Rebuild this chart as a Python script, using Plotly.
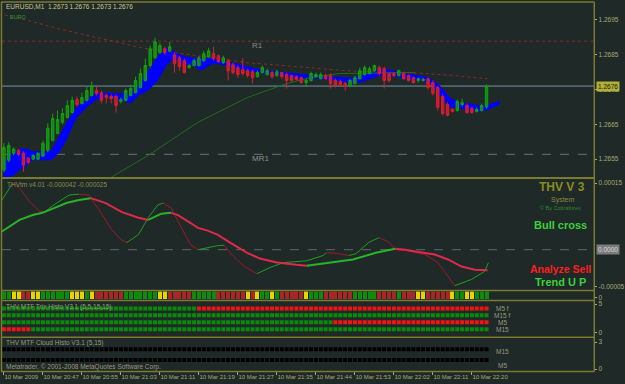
import plotly.graph_objects as go

# ---------------- data ----------------
bar_idx = list(range(100))

open_ = [1.26519, 1.26547, 1.26567, 1.26576, 1.26567, 1.26553, 1.26550, 1.26550, 1.26559, 1.26576,
         1.26604, 1.26624, 1.26656, 1.26670, 1.26684, 1.26721, 1.26710, 1.26719, 1.26733, 1.26747,
         1.26741, 1.26733, 1.26730, 1.26730, 1.26716, 1.26719, 1.26733, 1.26741, 1.26756, 1.26776,
         1.26819, 1.26841, 1.26856, 1.26867, 1.26861, 1.26850, 1.26841, 1.26833, 1.26813, 1.26819,
         1.26819, 1.26833, 1.26844, 1.26853, 1.26847, 1.26827, 1.26833, 1.26821, 1.26813, 1.26807,
         1.26804, 1.26801, 1.26787, 1.26799, 1.26793, 1.26799, 1.26790, 1.26799, 1.26793, 1.26790,
         1.26787, 1.26784, 1.26770, 1.26776, 1.26787, 1.26781, 1.26790, 1.26790, 1.26776, 1.26773,
         1.26767, 1.26761, 1.26767, 1.26781, 1.26793, 1.26796, 1.26804, 1.26813, 1.26810, 1.26796,
         1.26796, 1.26790, 1.26796, 1.26790, 1.26784, 1.26776, 1.26776, 1.26781, 1.26770, 1.26756,
         1.26730, 1.26707, 1.26693, 1.26690, 1.26707, 1.26704, 1.26696, 1.26687, 1.26690, 1.26700]
high = [1.26596, 1.26599, 1.26584, 1.26579, 1.26573, 1.26556, 1.26564, 1.26570, 1.26604, 1.26653,
        1.26681, 1.26690, 1.26696, 1.26719, 1.26730, 1.26730, 1.26741, 1.26759, 1.26773, 1.26759,
        1.26747, 1.26739, 1.26736, 1.26736, 1.26727, 1.26753, 1.26764, 1.26787, 1.26810, 1.26839,
        1.26876, 1.26899, 1.26884, 1.26873, 1.26887, 1.26856, 1.26847, 1.26839, 1.26824, 1.26839,
        1.26847, 1.26861, 1.26870, 1.26873, 1.26850, 1.26847, 1.26839, 1.26827, 1.26819, 1.26841,
        1.26810, 1.26807, 1.26804, 1.26819, 1.26810, 1.26804, 1.26807, 1.26801, 1.26799, 1.26793,
        1.26790, 1.26787, 1.26781, 1.26801, 1.26799, 1.26799, 1.26796, 1.26796, 1.26781, 1.26779,
        1.26773, 1.26781, 1.26790, 1.26813, 1.26819, 1.26816, 1.26821, 1.26819, 1.26816, 1.26799,
        1.26799, 1.26807, 1.26801, 1.26793, 1.26787, 1.26784, 1.26784, 1.26784, 1.26776, 1.26761,
        1.26736, 1.26713, 1.26696, 1.26721, 1.26724, 1.26710, 1.26701, 1.26699, 1.26710, 1.26765]
low = [1.26513, 1.26541, 1.26561, 1.26559, 1.26513, 1.26536, 1.26547, 1.26547, 1.26556, 1.26570,
       1.26601, 1.26621, 1.26650, 1.26667, 1.26681, 1.26701, 1.26707, 1.26716, 1.26730, 1.26733,
       1.26710, 1.26710, 1.26710, 1.26684, 1.26710, 1.26716, 1.26730, 1.26739, 1.26753, 1.26773,
       1.26813, 1.26839, 1.26853, 1.26850, 1.26859, 1.26799, 1.26804, 1.26796, 1.26810, 1.26816,
       1.26816, 1.26830, 1.26841, 1.26833, 1.26827, 1.26824, 1.26776, 1.26793, 1.26784, 1.26790,
       1.26784, 1.26767, 1.26784, 1.26796, 1.26790, 1.26781, 1.26787, 1.26781, 1.26753, 1.26773,
       1.26776, 1.26767, 1.26759, 1.26773, 1.26784, 1.26779, 1.26779, 1.26753, 1.26756, 1.26759,
       1.26747, 1.26756, 1.26764, 1.26779, 1.26790, 1.26793, 1.26801, 1.26790, 1.26753, 1.26770,
       1.26787, 1.26787, 1.26779, 1.26773, 1.26767, 1.26770, 1.26773, 1.26750, 1.26733, 1.26690,
       1.26676, 1.26673, 1.26684, 1.26687, 1.26701, 1.26681, 1.26681, 1.26684, 1.26687, 1.26695]
close = [1.26584, 1.26590, 1.26579, 1.26564, 1.26533, 1.26541, 1.26561, 1.26567, 1.26596, 1.26639,
         1.26667, 1.26664, 1.26681, 1.26704, 1.26719, 1.26707, 1.26727, 1.26747, 1.26761, 1.26739,
         1.26719, 1.26727, 1.26724, 1.26704, 1.26721, 1.26747, 1.26753, 1.26776, 1.26796, 1.26819,
         1.26867, 1.26887, 1.26876, 1.26856, 1.26873, 1.26824, 1.26816, 1.26799, 1.26819, 1.26833,
         1.26841, 1.26853, 1.26861, 1.26839, 1.26830, 1.26841, 1.26804, 1.26799, 1.26793, 1.26796,
         1.26790, 1.26784, 1.26799, 1.26813, 1.26804, 1.26787, 1.26801, 1.26787, 1.26776, 1.26776,
         1.26779, 1.26770, 1.26776, 1.26796, 1.26793, 1.26793, 1.26781, 1.26767, 1.26761, 1.26764,
         1.26759, 1.26776, 1.26784, 1.26804, 1.26813, 1.26810, 1.26819, 1.26796, 1.26776, 1.26776,
         1.26790, 1.26804, 1.26781, 1.26776, 1.26770, 1.26781, 1.26779, 1.26756, 1.26739, 1.26699,
         1.26681, 1.26676, 1.26687, 1.26716, 1.26713, 1.26684, 1.26684, 1.26693, 1.26704, 1.26760]

cloud_x = [0, 1.6, 3.2, 4.7, 5.9, 8.3, 9.7, 11.4, 12.8, 14.8,
           16.8, 18.9, 21.5, 23.5, 26.0, 27.6, 29.6, 31.6, 33.3, 34.9,
           36.7, 38.7, 40.4, 42.8, 44.8, 47.9, 50.9, 53.9, 57.0, 60.0,
           64.1, 68.2, 71.2, 73.2, 75.3, 78.3, 80.3, 82.4, 85.4, 87.4,
           89.5, 91.5, 93.5, 95.5, 97.6, 99.6, 101.6]
cloud_top = [1.26547, 1.26567, 1.26579, 1.26581, 1.26573, 1.26573, 1.26576, 1.26619, 1.26653, 1.26699,
             1.26719, 1.26741, 1.26741, 1.26739, 1.26741, 1.26764, 1.26804, 1.26847, 1.26870, 1.26861,
             1.26847, 1.26841, 1.26841, 1.26841, 1.26833, 1.26824, 1.26813, 1.26804, 1.26801, 1.26796,
             1.26790, 1.26787, 1.26784, 1.26790, 1.26801, 1.26810, 1.26804, 1.26796, 1.26790, 1.26784,
             1.26761, 1.26727, 1.26713, 1.26710, 1.26704, 1.26707, 1.26719]
cloud_bot = [1.26499, 1.26499, 1.26519, 1.26533, 1.26547, 1.26547, 1.26547, 1.26570, 1.26604, 1.26667,
             1.26696, 1.26721, 1.26730, 1.26721, 1.26710, 1.26733, 1.26747, 1.26776, 1.26819, 1.26839,
             1.26824, 1.26819, 1.26804, 1.26824, 1.26821, 1.26810, 1.26801, 1.26796, 1.26790, 1.26781,
             1.26781, 1.26776, 1.26767, 1.26770, 1.26781, 1.26793, 1.26787, 1.26781, 1.26776, 1.26770,
             1.26733, 1.26699, 1.26696, 1.26690, 1.26687, 1.26693, 1.26707]

ma_red_x = [0.2, 5.3, 11.4, 19.5, 28.2, 39.8, 49.9, 60.0, 70.2, 80.3, 86.4, 92.5, 99.2]
ma_red = [1.26964, 1.26947, 1.26924, 1.26899, 1.26870, 1.26847, 1.26827, 1.26816, 1.26804, 1.26799,
          1.26796, 1.26790, 1.26781]
ma_green_x = [22.1, 29.6, 39.8, 49.9, 58.0, 62.7, 68.8, 80.3, 84.4]
ma_green = [1.26499, 1.26561, 1.26656, 1.26727, 1.26767, 1.26784, 1.26796, 1.26799, 1.26799]

r1_level = 1.26889
mr1_level = 1.26564
bid_price = 1.26760

price_ticks = [1.2655, 1.2665, 1.2675, 1.2685, 1.2695]
price_tick_text = ["1.2655", "1.2665", "1.2675", "1.2685", "1.2695"]

time_tick_idx = [0, 8, 16, 24, 32, 40, 48, 56, 64, 72, 80, 88, 96]
time_tick_text = ["10 Mar 2009", "10 Mar 20:47", "10 Mar 20:55", "10 Mar 21:03", "10 Mar 21:11",
                  "10 Mar 21:19", "10 Mar 21:27", "10 Mar 21:35", "10 Mar 21:44", "10 Mar 21:53",
                  "10 Mar 22:02", "10 Mar 22:11", "10 Mar 22:20"]

# THV oscillator (units of 1e-6)
slow_x = [-0.8, 3.2, 5.9, 7.9, 9.9, 12.8, 15.4, 17.8, 20.9, 24.1, 27.6, 29.6, 32.3, 34.3, 35.7,
          38.3, 39.8, 41.8, 43.8, 46.4, 49.9, 52.5, 56.0, 60.0, 62.1, 66.7, 71.6, 76.3, 80.3,
          82.4, 84.4, 88.4, 91.1, 93.9, 96.6, 99.2]
slow_v = [38, 67, 78, 83, 92, 105, 112, 116, 105, 85, 72, 67, 81, 83, 78,
          60, 49, 43, 34, 16, -7, -20, -29, -34, -36, -29, -22, -7, 2,
          0, -4, -11, -22, -38, -45, -46]
fast_x = [-0.8, 1.8, 3.2, 5.3, 7.3, 8.3, 10.8, 13.4, 15.4, 17.4, 19.5, 22.1, 24.1, 25.2, 27.6,
          29.6, 31.6, 32.7, 34.3, 36.3, 38.3, 39.8, 43.8, 45.2, 46.4, 49.3, 51.9, 54.6, 57.4,
          60.0, 62.1, 65.5, 66.1, 68.2, 70.8, 72.2, 74.8, 76.9, 78.9, 80.3, 82.4, 86.4, 89.0,
          91.1, 92.5, 95.9, 98.6, 99.4]
fast_v = [105, 150, 139, 108, 87, 85, 105, 123, 125, 123, 90, 45, 22, 16, 34,
          72, 101, 105, 94, 52, 11, 0, 9, 10, -7, -38, -54, -40, -29,
          -27, -25, -13, -7, -8, -13, -9, 16, 27, 18, 0, -2, -11, -29,
          -60, -81, -67, -49, -29]
osc_ticks = [150, -83]
osc_tick_text = ["0.00015", "-0.00005"]

trend_row = ("GGYYRRYYGG" "GGGGYYYGYR" "RRRRRGGGGG" "GGYYRRRRRG" "GGGGRRRRRR"
             "YRYGGYGRRR" "RRYGGGRRRR" "RRGGGGGRRR" "RGRRRYYRRR" "RRYGGYYGGG")

trix_names = ["M5 f", "M15 f", "M5", "M15"]
trix_levels = [4, 3, 2, 1]
trix_rows = [
    "GGGGGGGGGG" "GGGGGGGGGG" "GGGGGGGGGG" "GGGGGGGGGG" "RRRRRRRRRR"
    "RRRRRRRRRR" "RRRRRRRRRR" "RRRRRRRRRR" "RRRRRRRRRR" "RRRRRRRRRR",
    "GGGGGGGGGG" "GGGGGGGGGG" "GGGGGGGGGG" "GGGGGGGGGG" "GGGGGGGGGG"
    "GGGGGGGGGG" "GGGGGGGGGG" "GGGGGGGGGG" "GGGGGGGGGG" "GGGGGGGGGG",
    "GGGGGGGGGG" "GGGGGGGGGG" "GGGGGGGGGG" "GGGGGGGGGG" "GGGGGGGGGG"
    "GGGGGGGGGG" "GGGGGGGGRR" "RRRRRRRRRR" "RRRRRRRRRR" "RRRRRRRRRR",
    "RRRRRRGGGG" "GGGGGGGGGG" "GGGGGGGGGG" "GGGGGGGGGG" "GGGGGGGGGG"
    "GGGGGGGGGG" "GGGGGGGGGG" "GGGGGGGGGG" "GGGGGGGGGG" "GGGGGGGGGG",
]
cloud_names = ["M15", "M5"]
cloud_levels = [2, 1]
cloud_rows = [
    "KKKKKKKKKK" "KKKKKKKKKK" "KKKKKKKKKK" "KKKKKKKKKK" "KKKKKKKKKK"
    "KKKKKKKKKK" "KKKKKKKKKK" "KKKKKKKKKK" "KKKKKKKKKK" "KKKKKKKKKK",
    "KKKKKKKKKK" "KKKKKKKKKK" "KKKKKKKKKK" "KKKKKKKKKK" "KKKKKKKKKK"
    "KKKKKKKKKK" "KKKKKKKKKK" "KKKKKKKKKK" "KKKKKKKKKK" "KKKKKKKKKK",
]

# ---------------- style ----------------
W, H = 625, 384
BG = "#1f2927"
OLIVE = "#7a7a30"
LBL = "#a8a874"
TXT = "#9a9a80"
FONT = "Liberation Sans"
row_colors = {"G": "#0b8c0b", "Y": "#e6d400", "R": "#a82626"}
trix_colors = {"G": "#0a8a0a", "R": "#f01414", "K": "#000000"}


def py(p):
    return 1 - p / H


def pxx(p):
    return p / W


X0, X1 = 2, 601
fig = go.Figure()

# cloud (base axis, below candles)
fig.add_trace(go.Scatter(x=cloud_x, y=cloud_bot, mode="lines", line=dict(width=0, color="#0000ff"),
                         xaxis="x", yaxis="y", hoverinfo="skip", showlegend=False))
fig.add_trace(go.Scatter(x=cloud_x, y=cloud_top, mode="lines", line=dict(width=0, color="#0000ff"),
                         fill="tonexty", fillcolor="#0000ff", xaxis="x", yaxis="y",
                         hoverinfo="skip", showlegend=False))
fig.add_trace(go.Scatter(x=ma_green_x, y=ma_green, mode="lines", line=dict(width=1, color="#1d6e1d"),
                         xaxis="x", yaxis="y", showlegend=False))
fig.add_trace(go.Scatter(x=ma_red_x, y=ma_red, mode="lines",
                         line=dict(width=1, color="#8c2a2a", dash="dot"),
                         xaxis="x", yaxis="y", showlegend=False))

# candles on overlay axis (drawn above cloud)
fig.add_trace(go.Candlestick(x=bar_idx, open=open_, high=high, low=low, close=close,
                             xaxis="x", yaxis="y6",
                             increasing=dict(line=dict(color="#14a014", width=1), fillcolor="#0f8c0f"),
                             decreasing=dict(line=dict(color="#d81e34", width=1), fillcolor="#c81a30"),
                             whiskerwidth=0, showlegend=False))


def split_dir(xs, vs):
    segs = []
    cur = None
    sx, sv = [xs[0]], [vs[0]]
    for k in range(1, len(xs)):
        d = vs[k] > vs[k - 1]
        if cur is None or d == cur:
            cur = d
            sx.append(xs[k]); sv.append(vs[k])
        else:
            segs.append((cur, sx, sv))
            sx, sv = [xs[k - 1], xs[k]], [vs[k - 1], vs[k]]
            cur = d
    segs.append((cur, sx, sv))
    return segs


for up, sx, sv in split_dir(fast_x, fast_v):
    fig.add_trace(go.Scatter(x=sx, y=sv, mode="lines", xaxis="x", yaxis="y2",
                             line=dict(width=1, color="#1ea01e" if up else "#a0182a"),
                             showlegend=False))
for up, sx, sv in split_dir(slow_x, slow_v):
    fig.add_trace(go.Scatter(x=sx, y=sv, mode="lines", xaxis="x", yaxis="y2",
                             line=dict(width=2, color="#28b428" if up else "#e0284c"),
                             showlegend=False))

# trend colour row
fig.add_trace(go.Bar(x=bar_idx, y=[1] * len(trend_row), base=0, width=0.82, xaxis="x", yaxis="y3",
                     marker=dict(color=[row_colors[c] for c in trend_row], line=dict(width=0)),
                     showlegend=False))

for lvl, row in zip(trix_levels, trix_rows):
    fig.add_trace(go.Scatter(x=bar_idx, y=[lvl] * len(row), mode="markers", xaxis="x", yaxis="y4",
                             marker=dict(symbol="square", size=4, color=[trix_colors[c] for c in row],
                                         line=dict(width=0)),
                             showlegend=False))
for lvl, row in zip(cloud_levels, cloud_rows):
    fig.add_trace(go.Scatter(x=bar_idx, y=[lvl] * len(row), mode="markers", xaxis="x", yaxis="y5",
                             marker=dict(symbol="square", size=4, color=[trix_colors[c] for c in row],
                                         line=dict(width=0)),
                             showlegend=False))

tickfont = dict(family=FONT, size=6.5, color=LBL)
common_y = dict(showgrid=False, zeroline=False, showline=False, side="right", anchor="x",
                ticks="outside", ticklen=2, tickcolor=LBL, tickfont=tickfont, fixedrange=True)

p_lo = 1.264986
p_hi = 1.269986
fig.update_layout(
    width=W, height=H, margin=dict(l=0, r=0, t=0, b=0),
    paper_bgcolor=BG, plot_bgcolor=BG, showlegend=False, bargap=0,
    xaxis=dict(domain=[pxx(X0), pxx(X1)], range=[-0.4, 121.1], anchor="y5",
               showgrid=False, zeroline=False, showline=False,
               tickvals=time_tick_idx, ticktext=time_tick_text, ticks="outside", ticklen=3,
               tickcolor=LBL, ticklabelposition="outside right", tickangle=0,
               tickfont=dict(family=FONT, size=6, color=LBL),
               rangeslider=dict(visible=False)),
    yaxis=dict(domain=[py(177), py(2)], range=[p_lo, p_hi], tickvals=price_ticks,
               ticktext=price_tick_text, **common_y),
    yaxis6=dict(overlaying="y", range=[p_lo, p_hi], visible=False, anchor="x", side="right"),
    yaxis2=dict(domain=[py(290), py(179)], range=[-89.6, 159], tickvals=osc_ticks,
                ticktext=osc_tick_text, **common_y),
    yaxis3=dict(domain=[py(300), py(292)], range=[0, 1], tickvals=[0.25], ticktext=["0"], **common_y),
    yaxis4=dict(domain=[py(337), py(302)], range=[0, 5], tickvals=[0.5, 4.6], ticktext=["0", "5"],
                **common_y),
    yaxis5=dict(domain=[py(372), py(339)], range=[0, 3], tickvals=[0.18, 2.64], ticktext=["0", "3"],
                **common_y),
)

shapes = []
# level lines
shapes.append(dict(type="line", xref="x domain", x0=0, x1=1, yref="y", y0=r1_level, y1=r1_level,
                   line=dict(color="#8c2a2a", width=1, dash="dot"), layer="below"))
shapes.append(dict(type="line", xref="x domain", x0=0, x1=1, yref="y", y0=mr1_level, y1=mr1_level,
                   line=dict(color="#6c7474", width=1, dash="dash"), layer="below"))
shapes.append(dict(type="line", xref="x domain", x0=0, x1=1, yref="y", y0=bid_price, y1=bid_price,
                   line=dict(color="#7894a8", width=1), layer="below"))
shapes.append(dict(type="line", xref="x domain", x0=0, x1=1, yref="y2", y0=0, y1=0,
                   line=dict(color="#5a6a70", width=1, dash="dash"), layer="below"))
# frame / separators
for yy, w in [(1, 1.5), (178, 2), (291, 1.5), (301, 1.5), (338, 1.5), (372.5, 1.5)]:
    shapes.append(dict(type="line", xref="paper", yref="paper", x0=pxx(1), x1=pxx(X1),
                       y0=py(yy), y1=py(yy), line=dict(color=OLIVE, width=w)))
for xx in [1.5, X1]:
    shapes.append(dict(type="line", xref="paper", yref="paper", x0=pxx(xx), x1=pxx(xx),
                       y0=py(1), y1=py(372.5), line=dict(color=OLIVE, width=1.5)))
fig.update_layout(shapes=shapes)

ann = []


def text(t, x, y, size=6.5, color=TXT, anchor="left", bold=False):
    ann.append(dict(text=("<b>%s</b>" % t) if bold else t, x=pxx(x), y=py(y), xref="paper",
                    yref="paper", xanchor=anchor, yanchor="middle", showarrow=False,
                    font=dict(family=FONT, size=size, color=color)))


text("EURUSD,M1  1.2673 1.2676 1.2673 1.2676", 4, 6, 6.5, "#c8c890")
text("EURO", 8, 16, 5.5, "#2a9a2a")
text("R1", 260, 45, 8, "#8c8c8c", "center")
text("MR1", 263, 158, 8, "#8c8c8c", "center")
text("THVtm v4.01 -0.000042 -0.000025", 5, 184, 6.5, "#8c8c50")
text("THV V 3", 568, 187, 12, "#8c8c1e", "center", True)
text("System", 569, 200, 7, "#8a8a40", "center")
text("© By Cobraforex", 567, 208, 5.5, "#2c8c2c", "center")
text("Bull cross", 567, 225, 11, "#3cd03c", "center", True)
text("Analyze Sell", 567, 269, 10.5, "#ff1e1e", "center", True)
text("Trend U P", 567, 282, 11, "#3cd03c", "center", True)
text("THV MTF Trix Histo V3.1 (5,5,15,15)", 4, 308, 6.5, TXT)
for name, yy in zip(trix_names, [309, 316, 323, 330]):
    text(name, 508, yy, 6.5, TXT, "center")
text("THV MTF Cloud Histo V3.1 (5,15)", 4, 344, 6.5, TXT)
for name, yy in zip(cloud_names, [352, 366]):
    text(name, 508, yy, 6.5, TXT, "center")
text("Metatrader, © 2001-2008 MetaQuotes Software Corp.", 4, 368, 6.5, TXT)

# price box and zero box on right scale
ann.append(dict(text="1.2676", x=pxx(603), y=bid_price, xref="paper", yref="y", xanchor="left",
                yanchor="middle", showarrow=False, bgcolor="#b0b03a", borderpad=1,
                font=dict(family=FONT, size=6.5, color="#1a1a00")))
ann.append(dict(text="0.0000", x=pxx(603), y=0, xref="paper", yref="y2", xanchor="left",
                yanchor="middle", showarrow=False, bgcolor="#7c7c7c", borderpad=1,
                font=dict(family=FONT, size=6.5, color="#d8d8d8")))
fig.update_layout(annotations=ann)

fig.write_html("out.html")
